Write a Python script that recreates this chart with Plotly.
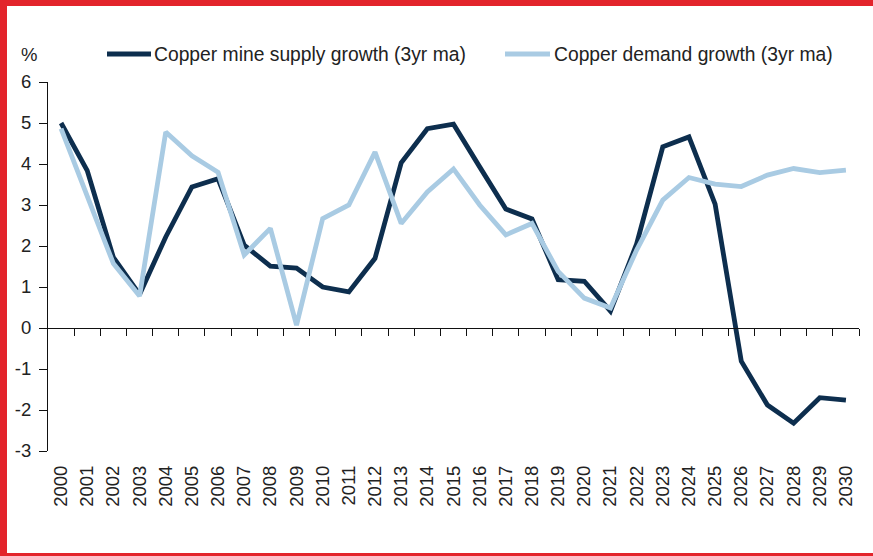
import plotly.graph_objects as go

years = list(range(2000, 2031))
supply = [5.0, 3.84, 1.72, 0.82, 2.22, 3.44, 3.64, 2.02, 1.51, 1.46, 1.0, 0.88, 1.70,
          4.03, 4.86, 4.97, 3.93, 2.9, 2.66, 1.18, 1.14, 0.41, 2.05, 4.42, 4.66, 3.02,
          -0.81, -1.88, -2.32, -1.70, -1.76]
demand = [4.86, 3.2, 1.57, 0.78, 4.78, 4.2, 3.8, 1.78, 2.43, 0.07, 2.67, 3.0, 4.29,
          2.55, 3.32, 3.88, 3.0, 2.27, 2.55, 1.38, 0.73, 0.49, 1.9, 3.12, 3.67, 3.51,
          3.45, 3.73, 3.89, 3.79, 3.85]
series_names = ["Copper mine supply growth (3yr ma)", "Copper demand growth (3yr ma)"]
year_labels = [str(y) for y in years]
boundaries = [y + 0.5 for y in years]
y_ticks = [-3, -2, -1, 0, 1, 2, 3, 4, 5, 6]
y_labels = ["-3", "-2", "-1", "0", "1", "2", "3", "4", "5", "6"]

DARK = "#0D2E4E"
LIGHT = "#A9CBE3"
RED = "#E3242B"
TXT = "#222222"
FONT = "Liberation Sans, Arial, sans-serif"
FS = 18.5

W, H = 873, 556
L, R, T, B = 48, 14, 82, 105
PW, PH = W - L - R, H - T - B


def px(x):
    return (x - L) / PW


def py(y):
    return (H - B - y) / PH


fig = go.Figure()
fig.add_trace(go.Scatter(x=years, y=supply, mode="lines", name=series_names[0],
                         line=dict(color=DARK, width=4.8), showlegend=False))
fig.add_trace(go.Scatter(x=years, y=demand, mode="lines", name=series_names[1],
                         line=dict(color=LIGHT, width=4.8), showlegend=False))
# helper trace so the zero-line axis is drawn
fig.add_trace(go.Scatter(x=[], y=[], xaxis="x2", yaxis="y", showlegend=False,
                         hoverinfo="skip"))

shapes = []
# red frame
shapes.append(dict(type="rect", xref="paper", yref="paper", x0=px(0), x1=px(7),
                   y0=py(H), y1=py(0), fillcolor=RED, line=dict(width=0), layer="above"))
shapes.append(dict(type="rect", xref="paper", yref="paper", x0=px(0), x1=px(W),
                   y0=py(6), y1=py(0), fillcolor=RED, line=dict(width=0), layer="above"))
shapes.append(dict(type="rect", xref="paper", yref="paper", x0=px(0), x1=px(W),
                   y0=py(H), y1=py(553), fillcolor=RED, line=dict(width=0), layer="above"))
# legend samples
shapes.append(dict(type="line", xref="paper", yref="paper", x0=px(107), x1=px(151),
                   y0=py(54), y1=py(54), line=dict(color=DARK, width=5)))
shapes.append(dict(type="line", xref="paper", yref="paper", x0=px(505), x1=px(550),
                   y0=py(54), y1=py(54), line=dict(color=LIGHT, width=5)))

annotations = [
    dict(text="%", xref="paper", yref="paper", x=px(19), y=py(55), xanchor="left",
         yanchor="middle", showarrow=False, font=dict(size=FS, color=TXT, family=FONT)),
    dict(text=series_names[0], xref="paper", yref="paper", x=px(152), y=py(55),
         xanchor="left", yanchor="middle", showarrow=False,
         font=dict(size=19.3, color=TXT, family=FONT)),
    dict(text=series_names[1], xref="paper", yref="paper", x=px(552), y=py(55),
         xanchor="left", yanchor="middle", showarrow=False,
         font=dict(size=19.3, color=TXT, family=FONT)),
]

fig.update_layout(
    width=W, height=H,
    margin=dict(l=L, r=R, t=T, b=B, pad=0),
    paper_bgcolor="white", plot_bgcolor="white",
    font=dict(family=FONT, size=FS, color=TXT),
    shapes=shapes, annotations=annotations,
    xaxis=dict(range=[1999.5, 2030.5], tickmode="array", tickvals=years,
               ticktext=year_labels, tickangle=-90, showline=False, showgrid=False,
               zeroline=False, ticks="", ticklabelstandoff=10,
               tickfont=dict(size=FS, color=TXT)),
    xaxis2=dict(range=[1999.5, 2030.5], overlaying="x", anchor="free", position=1 / 3,
                side="bottom", tickmode="array", tickvals=boundaries,
                showticklabels=False, showline=True, linecolor="#111", linewidth=1,
                ticks="outside", ticklen=7, tickcolor="#111", tickwidth=1,
                showgrid=False, zeroline=False),
    yaxis=dict(range=[-3, 6], tickmode="array", tickvals=y_ticks, ticktext=y_labels,
               showline=True, linecolor="#111",
               linewidth=1, ticks="outside", ticklen=8, tickcolor="#111", tickwidth=1,
               showgrid=False, zeroline=False, ticklabelstandoff=4,
               tickfont=dict(size=FS, color=TXT)),
)

fig.write_html("out.html", config={"displayModeBar": False},
               post_script="document.body.style.margin='0';document.body.style.padding='0';")
